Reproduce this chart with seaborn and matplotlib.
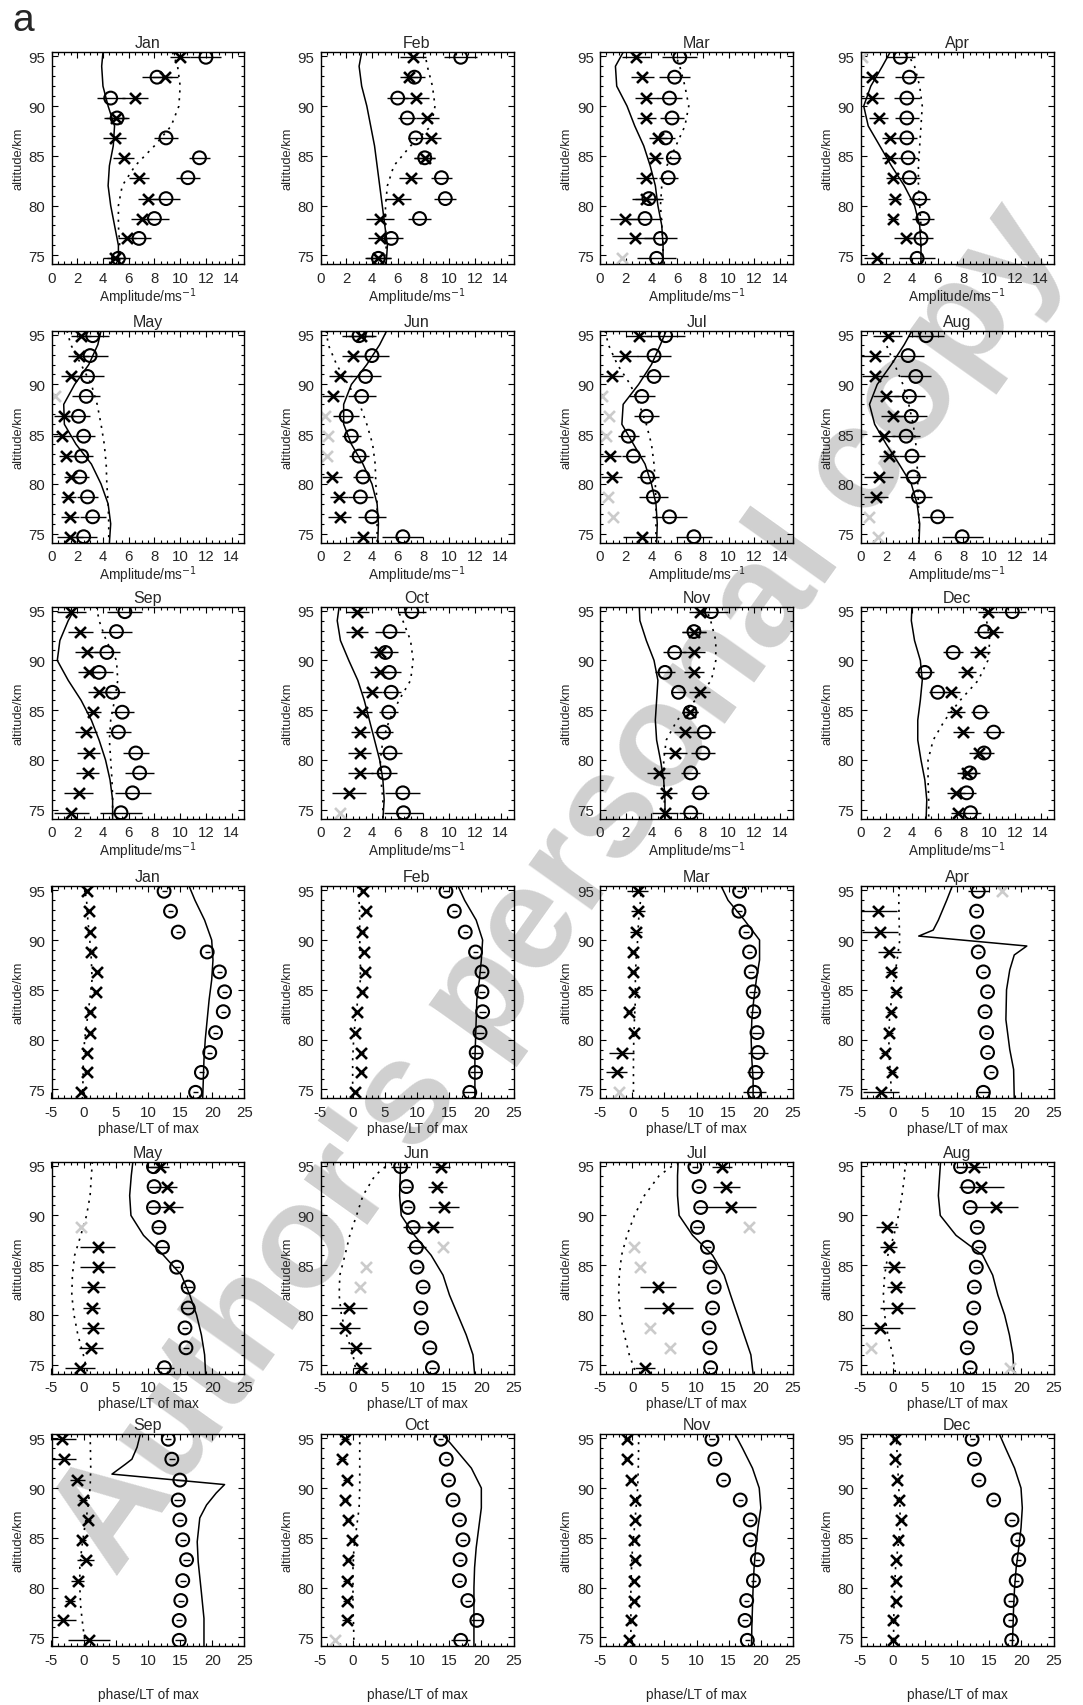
import numpy as np
import matplotlib
matplotlib.use("Agg")
import matplotlib.pyplot as plt
import seaborn as sns
from matplotlib.ticker import MultipleLocator

# ---------------- data ----------------
MONTHS = ["Jan", "Feb", "Mar", "Apr", "May", "Jun", "Jul", "Aug", "Sep", "Oct", "Nov", "Dec"]
# measurement altitudes, top -> bottom
ALT = [94.9, 92.9, 90.8, 88.8, 86.8, 84.8, 82.8, 80.7, 78.7, 76.7, 74.7]
# altitudes at which the model curves were read
CURVE_ALT = [95.4, 94, 92, 90, 88, 86, 84, 82, 80, 78, 76, 74.1]
# indices of non-significant (grey) cross points per month
GRAY = [[], [], [10], [0], [3], [4, 5, 6], [3, 4, 5, 8, 9], [9, 10], [], [10], [], []]

AMP_CIRCLE = [
    [12.0, 8.2, 4.6, 5.1, 8.9, 11.5, 10.6, 8.9, 8.0, 6.8, 5.2],
    [10.9, 7.3, 6.0, 6.75, 7.4, 8.1, 9.4, 9.7, 7.7, 5.5, 4.5],
    [6.2, 5.8, 5.4, 5.6, 5.1, 5.7, 5.3, 3.8, 3.5, 4.7, 4.4],
    [3.1, 3.8, 3.6, 3.6, 3.6, 3.7, 3.8, 4.6, 4.85, 4.7, 4.4],
    [3.2, 3.0, 2.8, 2.7, 2.1, 2.5, 2.35, 2.2, 2.8, 3.2, 2.5],
    [3.0, 4.0, 3.5, 3.2, 2.0, 2.4, 3.0, 3.3, 3.1, 4.0, 6.4],
    [5.1, 4.2, 4.2, 3.25, 3.6, 2.2, 2.6, 3.7, 4.15, 5.4, 7.3],
    [5.1, 3.7, 4.3, 3.8, 3.95, 3.55, 4.0, 4.1, 4.5, 6.0, 7.9],
    [5.7, 5.05, 4.3, 3.7, 4.75, 5.5, 5.2, 6.55, 6.85, 6.3, 5.4],
    [7.1, 5.4, 5.05, 5.35, 5.5, 5.3, 4.9, 5.4, 4.95, 6.4, 6.45],
    [8.65, 7.3, 5.8, 5.05, 6.1, 7.0, 8.1, 8.0, 7.05, 7.75, 7.05],
    [11.8, 9.65, 7.2, 5.0, 6.0, 9.3, 10.35, 9.6, 8.5, 8.25, 8.55],
]
AMP_CIRCLE_ERR = [
    [1.2, 1.2, 1.1, 0.9, 0.9, 0.85, 0.95, 1.1, 1.1, 0.9, 0.9],
    [1.3, 0.8, 0.8, 0.7, 0.6, 0.8, 0.8, 0.85, 0.9, 0.9, 1.0],
    [1.35, 1.2, 1.0, 0.9, 0.7, 0.6, 0.75, 1.1, 1.3, 1.3, 1.5],
    [1.15, 1.1, 1.0, 0.95, 0.8, 0.8, 0.8, 0.8, 0.85, 0.95, 1.4],
    [1.3, 1.4, 1.3, 1.1, 0.9, 0.9, 0.9, 0.7, 0.85, 1.0, 1.0],
    [1.3, 1.3, 1.2, 1.1, 1.0, 0.75, 0.75, 0.8, 1.0, 1.1, 1.6],
    [1.5, 1.3, 1.2, 1.0, 0.95, 0.8, 0.9, 0.85, 1.1, 1.35, 1.4],
    [1.4, 1.2, 1.2, 1.2, 1.2, 1.1, 1.0, 1.0, 1.05, 1.2, 1.6],
    [1.35, 1.2, 1.0, 1.1, 1.0, 0.9, 0.95, 1.0, 1.15, 1.4, 1.6],
    [1.1, 1.15, 1.0, 0.9, 0.75, 0.75, 0.75, 0.9, 1.0, 1.35, 1.5],
    [1.3, 0.9, 0.9, 0.8, 0.6, 0.6, 0.85, 0.9, 0.75, 0.7, 0.9],
    [1.1, 0.8, 0.75, 0.75, 0.7, 0.7, 0.8, 0.8, 0.8, 0.75, 0.8],
]
AMP_CROSS = [
    [10.0, 8.8, 6.5, 5.0, 4.9, 5.6, 6.8, 7.5, 7.0, 5.9, 4.9],
    [7.2, 6.9, 7.4, 8.3, 8.6, 8.1, 7.0, 6.0, 4.6, 4.6, 4.45],
    [2.8, 3.3, 3.6, 3.6, 4.5, 4.3, 3.6, 3.6, 1.95, 2.7, 1.7],
    [0.15, 0.9, 0.9, 1.4, 2.3, 2.3, 2.5, 2.65, 2.5, 3.5, 1.3],
    [2.3, 2.1, 1.55, 0.25, 1.0, 0.8, 1.15, 1.55, 1.3, 1.4, 1.45],
    [3.15, 2.55, 1.55, 1.0, 0.35, 0.6, 0.5, 0.9, 1.4, 1.5, 3.3],
    [3.0, 1.95, 0.9, 0.15, 0.7, 0.5, 0.8, 0.9, 0.65, 1.0, 3.25],
    [2.1, 1.1, 1.1, 2.0, 2.5, 1.8, 2.2, 1.4, 1.2, 0.65, 1.35],
    [1.55, 2.25, 2.75, 2.9, 3.7, 3.25, 2.7, 2.9, 2.8, 2.1, 1.55],
    [2.85, 2.85, 4.65, 4.6, 4.0, 3.25, 3.1, 3.05, 3.1, 2.2, 1.5],
    [7.75, 7.3, 7.3, 7.3, 7.75, 7.0, 6.6, 5.85, 4.55, 5.15, 5.05],
    [9.9, 10.3, 9.3, 8.25, 7.05, 7.45, 8.0, 9.2, 8.3, 7.45, 7.6],
]
AMP_CROSS_ERR = [
    [0.8, 1.0, 1.0, 0.9, 0.9, 0.85, 0.8, 0.8, 0.8, 0.7, 0.9],
    [1.0, 0.7, 1.0, 0.9, 0.8, 0.8, 0.9, 1.0, 1.1, 0.9, 1.0],
    [1.1, 0.9, 0.9, 0.75, 0.7, 0.6, 0.8, 1.1, 1.2, 1.4, 0.0],
    [0.0, 0.9, 0.9, 0.75, 0.6, 0.6, 0.5, 0.5, 0.4, 0.9, 1.0],
    [0.8, 0.8, 0.8, 0.0, 0.8, 0.7, 0.6, 0.6, 0.6, 0.7, 1.0],
    [1.0, 0.9, 0.9, 0.85, 0.0, 0.0, 0.0, 0.8, 0.7, 0.9, 1.0],
    [1.0, 1.0, 0.9, 0.0, 0.0, 0.0, 0.8, 0.8, 0.0, 0.0, 1.5],
    [1.1, 1.1, 1.0, 1.0, 0.9, 0.9, 0.8, 1.1, 0.95, 0.0, 0.0],
    [1.1, 0.95, 0.9, 0.85, 0.9, 0.6, 0.85, 0.9, 0.9, 1.1, 1.35],
    [0.9, 0.85, 0.8, 0.75, 0.75, 0.75, 0.75, 0.9, 0.95, 1.3, 0.0],
    [0.8, 0.9, 0.85, 0.8, 0.8, 0.6, 0.85, 0.95, 0.9, 0.8, 1.0],
    [0.8, 0.8, 0.8, 0.7, 0.7, 0.7, 0.8, 0.8, 0.8, 0.7, 0.6],
]
AMP_SOLID = [
    [4.0, 3.9, 4.0, 4.4, 4.9, 4.8, 4.5, 4.4, 4.6, 4.9, 5.2, 5.2],
    [3.2, 3.0, 3.2, 3.6, 3.9, 4.2, 4.4, 4.6, 4.8, 5.0, 5.2, 5.1],
    [1.8, 1.2, 1.3, 2.1, 2.7, 3.4, 3.9, 4.3, 4.5, 4.8, 4.9, 4.9],
    [2.3, 1.7, 0.8, 0.25, 0.6, 1.5, 2.4, 3.4, 4.2, 4.6, 4.7, 4.7],
    [3.85, 3.6, 2.9, 1.8, 0.95, 1.0, 1.9, 3.1, 3.85, 4.4, 4.6, 4.5],
    [5.15, 4.6, 3.6, 2.4, 1.8, 1.8, 2.4, 3.3, 4.0, 4.4, 4.5, 4.45],
    [5.15, 4.7, 4.0, 3.0, 1.8, 1.7, 2.6, 3.5, 4.0, 4.35, 4.45, 4.4],
    [4.0, 3.4, 2.4, 1.3, 0.7, 1.1, 2.0, 3.0, 3.95, 4.4, 4.6, 4.55],
    [1.9, 1.3, 0.65, 0.45, 1.3, 2.3, 3.1, 3.7, 4.2, 4.55, 4.75, 4.75],
    [1.45, 1.3, 1.55, 2.2, 2.9, 3.4, 3.8, 4.2, 4.6, 4.85, 4.95, 4.85],
    [3.05, 3.1, 3.6, 4.2, 4.5, 4.4, 4.3, 4.4, 4.7, 4.95, 5.05, 5.05],
    [4.0, 3.95, 4.2, 4.65, 4.8, 4.65, 4.45, 4.45, 4.7, 5.0, 5.15, 5.1],
]
AMP_DOTTED = [
    [9.4, 9.8, 10.0, 9.9, 9.3, 8.0, 6.5, 5.5, 5.2, 5.2, 5.3, 5.3],
    [8.1, 8.3, 8.7, 8.9, 8.6, 7.0, 5.7, 5.2, 5.05, 5.05, 5.1, 5.1],
    [5.8, 6.2, 6.6, 6.9, 6.6, 5.9, 5.2, 4.8, 4.7, 4.8, 4.9, 4.9],
    [3.6, 4.2, 4.6, 4.8, 4.7, 4.6, 4.5, 4.5, 4.6, 4.7, 4.7, 4.7],
    [1.2, 1.5, 2.3, 3.1, 3.55, 3.85, 4.1, 4.25, 4.3, 4.4, 4.45, 4.45],
    [0.45, 0.6, 1.25, 2.15, 3.05, 3.6, 4.05, 4.25, 4.3, 4.4, 4.4, 4.4],
    [0.4, 0.65, 1.35, 2.35, 3.05, 3.6, 4.0, 4.2, 4.3, 4.35, 4.35, 4.35],
    [1.8, 2.0, 2.65, 3.3, 3.75, 4.1, 4.3, 4.4, 4.45, 4.5, 4.55, 4.55],
    [3.5, 3.7, 4.25, 5.05, 5.15, 4.9, 4.6, 4.5, 4.6, 4.7, 4.75, 4.75],
    [5.85, 6.4, 7.0, 7.2, 7.0, 6.1, 5.35, 4.85, 4.65, 4.7, 4.85, 4.85],
    [8.2, 8.6, 9.0, 9.0, 8.65, 7.4, 6.0, 5.15, 4.95, 4.95, 5.0, 5.05],
    [9.4, 9.8, 10.05, 9.9, 9.15, 7.75, 6.55, 5.65, 5.25, 5.25, 5.3, 5.3],
]

PHASE_CIRCLE = [
    [12.5, 13.5, 14.7, 19.2, 21.1, 21.9, 21.7, 20.5, 19.6, 18.3, 17.4],
    [14.5, 15.8, 17.5, 19.1, 20.1, 20.1, 20.2, 19.8, 19.2, 19.1, 18.2],
    [16.7, 16.6, 17.7, 18.25, 18.5, 18.8, 18.9, 19.4, 19.55, 19.2, 19.0],
    [13.3, 13.05, 13.2, 13.3, 14.1, 14.75, 14.35, 14.6, 14.75, 15.3, 14.1],
    [10.85, 10.95, 10.85, 11.7, 12.25, 14.45, 16.25, 16.25, 15.75, 15.9, 12.55],
    [7.45, 8.35, 8.6, 9.4, 9.9, 10.0, 10.95, 10.6, 10.7, 12.0, 12.4],
    [9.75, 10.4, 10.65, 10.15, 11.7, 12.1, 12.75, 12.5, 11.95, 12.1, 12.2],
    [10.55, 11.7, 12.05, 13.15, 13.4, 13.0, 12.7, 12.6, 12.1, 11.6, 12.05],
    [13.15, 13.7, 14.95, 14.7, 14.95, 15.4, 16.0, 15.4, 15.1, 14.85, 14.85],
    [13.7, 14.55, 14.9, 15.6, 16.6, 17.15, 16.7, 16.6, 17.9, 19.3, 16.8],
    [12.4, 12.85, 14.2, 16.8, 18.35, 18.35, 19.45, 18.85, 17.8, 17.55, 17.9],
    [12.35, 12.7, 13.4, 15.7, 18.55, 19.45, 19.6, 19.2, 18.4, 18.3, 18.5],
]
PHASE_CIRCLE_ERR = [
    [0.4, 0.4, 0.4, 0.4, 0.4, 0.4, 0.4, 0.4, 0.4, 0.4, 0.4],
    [0.4, 0.4, 0.4, 0.4, 0.5, 0.5, 0.5, 0.6, 0.8, 0.8, 1.0],
    [0.4, 0.4, 0.4, 0.4, 0.5, 0.6, 0.6, 0.7, 1.6, 1.3, 1.8],
    [1.6, 0.4, 0.4, 0.4, 0.4, 0.4, 0.4, 0.4, 0.4, 0.4, 0.8],
    [1.0, 0.8, 0.8, 1.0, 1.0, 0.5, 0.8, 1.0, 0.5, 0.5, 1.5],
    [1.5, 0.7, 0.6, 1.5, 1.5, 0.6, 0.6, 0.5, 0.5, 0.6, 0.5],
    [0.5, 0.5, 0.8, 0.7, 0.5, 0.8, 0.5, 0.5, 0.5, 0.5, 0.5],
    [0.7, 0.8, 0.6, 0.6, 0.6, 0.5, 0.5, 0.5, 0.5, 0.5, 0.5],
    [0.5, 0.5, 0.6, 0.6, 0.5, 0.5, 0.5, 0.5, 0.5, 0.5, 0.7],
    [0.4, 0.4, 0.4, 0.4, 0.4, 0.4, 0.4, 0.4, 0.5, 0.9, 1.5],
    [0.4, 0.4, 0.4, 0.4, 0.4, 0.4, 0.4, 0.4, 0.4, 0.4, 0.4],
    [0.4, 0.4, 0.4, 0.4, 0.4, 0.4, 0.4, 0.4, 0.4, 0.4, 0.4],
]
PHASE_CROSS = [
    [0.45, 0.8, 0.95, 1.2, 2.1, 1.85, 1.05, 1.05, 0.45, 0.45, -0.35],
    [1.55, 2.1, 1.45, 1.7, 1.95, 1.45, 0.65, 0.4, 1.35, 1.35, 0.4],
    [0.85, 0.95, 0.6, 0.1, 0.1, 0.35, -0.45, 0.25, -1.6, -2.4, -2.0],
    [17.05, -2.3, -1.9, -0.5, -0.2, 0.55, -0.3, -0.5, -1.25, -0.1, -1.8],
    [11.8, 12.9, 13.25, -0.35, 2.2, 2.2, 1.45, 1.25, 1.5, 1.2, -0.6],
    [13.7, 13.15, 14.2, 12.5, 14.0, 2.15, 1.1, -0.55, -1.2, 0.45, 1.25],
    [13.95, 14.65, 15.35, 18.2, 0.35, 1.25, 4.05, 5.6, 2.8, 5.9, 2.0],
    [12.7, 13.75, 16.0, -0.9, -0.6, 0.2, 0.55, 0.7, -1.95, -3.35, 18.3],
    [-3.4, -3.05, -1.0, -0.1, 0.65, -0.2, 0.3, -0.9, -2.15, -3.2, 0.8],
    [-1.2, -1.65, -0.95, -1.2, -0.7, -0.1, -0.7, -0.95, -0.95, -0.95, -2.8],
    [-0.8, -0.85, -0.2, 0.45, 0.5, 0.35, 0.5, 0.25, 0.35, -0.2, -0.45],
    [0.3, 0.4, 0.7, 0.95, 1.3, 0.9, 0.55, 0.45, 0.45, 0.05, 0.05],
]
PHASE_CROSS_ERR = [
    [0.4, 0.4, 0.4, 0.4, 0.4, 0.4, 0.4, 0.4, 0.4, 0.4, 0.4],
    [0.4, 0.4, 0.4, 0.4, 0.4, 0.4, 0.4, 0.4, 0.4, 0.4, 0.4],
    [1.6, 1.1, 0.9, 0.5, 0.5, 0.5, 0.5, 0.5, 1.95, 1.6, 0.0],
    [0.0, 3.0, 2.8, 1.8, 0.9, 0.8, 0.6, 0.6, 0.6, 0.6, 2.8],
    [1.5, 1.6, 2.2, 0.0, 2.7, 2.7, 1.8, 1.3, 1.7, 1.85, 2.3],
    [1.4, 1.5, 2.3, 3.1, 0.0, 0.0, 0.0, 2.85, 2.3, 2.45, 1.2],
    [1.5, 2.1, 3.9, 0.0, 0.0, 0.0, 2.8, 3.8, 0.0, 0.0, 1.6],
    [2.0, 3.5, 3.5, 1.75, 1.3, 1.7, 1.4, 2.7, 3.1, 0.0, 0.0],
    [2.2, 1.8, 1.2, 0.6, 0.5, 0.5, 1.3, 1.0, 0.8, 2.0, 3.3],
    [0.6, 0.6, 0.5, 0.5, 0.5, 0.5, 0.5, 0.5, 0.5, 0.7, 0.0],
    [0.4, 0.4, 0.4, 0.4, 0.4, 0.4, 0.4, 0.4, 0.4, 0.4, 0.4],
    [0.4, 0.4, 0.4, 0.4, 0.4, 0.4, 0.4, 0.4, 0.4, 0.4, 0.4],
]
PHASE_SOLID = [
    [16.4, 17.3, 18.8, 19.9, 20.1, 19.9, 19.5, 19.2, 18.9, 18.7, 18.6, 18.5],
    [16.4, 17.4, 19.2, 20.2, 20.0, 19.7, 19.3, 19.2, 19.1, 19.0, 19.0, 19.0],
    [13.85, 14.9, 17.45, 19.8, 19.8, 19.3, 18.9, 18.6, 18.5, 18.6, 18.8, 18.8],
    None,
    [7.65, 7.4, 7.15, 7.35, 9.3, 12.4, 15.2, 16.5, 17.55, 18.3, 18.8, 18.95],
    [7.45, 7.4, 7.3, 7.55, 9.6, 12.2, 14.05, 15.05, 16.35, 17.65, 18.7, 18.95],
    [7.15, 7.05, 7.05, 7.3, 9.4, 12.5, 14.3, 15.3, 16.35, 17.4, 18.45, 18.8],
    [7.45, 7.3, 7.1, 7.4, 9.85, 14.0, 15.55, 16.35, 17.4, 18.15, 18.7, 18.85],
    None,
    [14.0, 15.85, 18.45, 20.0, 20.0, 19.6, 19.2, 18.95, 18.85, 18.85, 18.85, 18.85],
    [16.0, 17.15, 18.7, 19.75, 20.0, 19.55, 19.2, 18.95, 18.8, 18.7, 18.6, 18.55],
    [16.6, 17.55, 18.95, 19.95, 20.15, 19.95, 19.6, 19.2, 18.95, 18.8, 18.7, 18.6],
]
# months whose model phase jumps: read at their own altitudes
APR_PHASE_SOLID_ALT = [95.4, 94, 92, 91, 90.4, 89.4, 88.5, 87, 85, 82, 79, 77, 74.1]
APR_PHASE_SOLID = [9.25, 8.4, 7.1, 6.3, 4.05, 20.85, 18.9, 18.2, 17.7, 17.6, 18.2, 18.8, 18.9]
SEP_PHASE_SOLID_ALT = [95.4, 94.1, 92.9, 92.4, 91.4, 90.35, 89.5, 88.3, 87.0, 84.6, 82.6, 79.5, 76.9, 74.1]
SEP_PHASE_SOLID = [8.8, 8.3, 7.5, 6.5, 4.4, 21.9, 20.6, 19.1, 18.05, 17.65, 17.8, 18.3, 18.7, 18.7]

PHASE_DOTTED = [
    [0.05, 0.45, 0.65, 0.95, 1.2, 1.3, 0.95, 0.55, 0.15, -0.05, -0.1, -0.2],
    [0.8, 1.0, 1.1, 1.1, 1.2, 1.2, 0.8, 0.4, 0.15, 0.0, 0.0, 0.0],
    [1.4, 1.3, 1.0, 0.85, 0.6, 0.5, 0.5, 0.35, 0.25, 0.2, 0.2, 0.2],
    [0.95, 0.95, 1.0, 1.1, 0.7, 0.2, -0.2, -0.5, -0.6, -0.5, -0.3, -0.2],
    [1.35, 1.2, 1.0, 0.45, -0.45, -1.4, -1.75, -1.85, -1.5, -0.9, -0.05, 0.65],
    [6.0, 3.45, 1.6, 0.6, -0.45, -1.2, -2.0, -2.1, -1.75, -0.95, 0.05, 0.6],
    [7.15, 4.2, 1.9, 0.35, -0.8, -1.65, -2.0, -2.1, -1.85, -1.2, -0.45, 0.6],
    [1.95, 1.85, 1.45, 0.9, 0.2, -0.75, -1.25, -1.45, -1.25, -0.75, 0.0, 0.45],
    [1.0, 1.05, 1.1, 1.0, 0.65, 0.15, -0.3, -0.6, -0.6, -0.45, -0.1, 0.3],
    [1.1, 1.1, 1.1, 1.1, 1.0, 0.6, 0.2, 0.05, 0.05, 0.05, 0.15, 0.2],
    [1.0, 1.0, 0.95, 0.85, 0.6, 0.35, 0.05, -0.1, -0.2, -0.2, -0.2, -0.2],
    [0.55, 0.65, 0.8, 0.95, 1.15, 1.15, 0.8, 0.45, 0.3, 0.2, 0.15, 0.15],
]

AMP_TICKS = [0, 2, 4, 6, 8, 10, 12, 14]
PHASE_TICKS = [-5, 0, 5, 10, 15, 20, 25]
ALT_TICKS = [75, 80, 85, 90, 95]
WATERMARK = "Author's personal copy"

# ---------------- styling / layout ----------------
sns.set_style("ticks")
plt.rcParams["font.family"] = ["Liberation Sans", "DejaVu Sans"]
plt.rcParams["axes.unicode_minus"] = False

W, H = 1083, 1706
fig = plt.figure(figsize=(W / 100, H / 100), dpi=100)
fig.patch.set_facecolor("white")

COL_LEFT = [51.5, 320.5, 600.0, 860.5]
ROW_TOP = [53.3, 331.7, 607.7, 887.3, 1162.7, 1435.3]
AX_W, AX_H = 193.0, 212.0

GRAY_COLOR = "#cbcbcb"
DOT_STYLE = (0, (1.3, 3.4))


def style_axes(ax, kind, bottom_row):
    ax.set_facecolor("none")
    if kind == "amp":
        ax.set_xlim(0, 15)
        ax.set_xticks(AMP_TICKS)
        ax.xaxis.set_minor_locator(MultipleLocator(0.5))
        ax.set_xlabel("Amplitude/ms$^{-1}$", fontsize=9.8, labelpad=0.5)
    else:
        ax.set_xlim(-5, 25)
        ax.set_xticks(PHASE_TICKS)
        ax.xaxis.set_minor_locator(MultipleLocator(1))
        ax.set_xlabel("phase/LT of max", fontsize=9.8,
                      labelpad=(15 if bottom_row else 1.5))
    ax.set_ylim(74.1, 95.4)
    ax.set_yticks(ALT_TICKS)
    ax.yaxis.set_minor_locator(MultipleLocator(1))
    ax.set_ylabel("altitude/km", fontsize=9.3, labelpad=3)
    ax.tick_params(which="both", direction="in", top=True, right=True,
                   color="black", width=0.8)
    ax.tick_params(which="major", length=4.5, labelsize=10.8, pad=4.5)
    ax.tick_params(which="minor", length=2.0)
    for sp in ax.spines.values():
        sp.set_visible(True)
        sp.set_linewidth(1.0)
        sp.set_color("black")


def draw_panel(ax, circ, circ_err, cross, cross_err, gray_idx,
               solid_alt, solid, dotted):
    alt = np.array(ALT)
    cross = np.array(cross, dtype=float)
    cross_err = np.array(cross_err, dtype=float)
    gmask = np.zeros(len(alt), dtype=bool)
    gmask[gray_idx] = True

    sns.lineplot(x=solid, y=solid_alt, orient="y", sort=False, estimator=None,
                 color="black", linewidth=1.1, ax=ax, zorder=2)
    sns.lineplot(x=dotted, y=CURVE_ALT, orient="y", sort=False, estimator=None,
                 color="black", linewidth=1.2, linestyle=DOT_STYLE, ax=ax, zorder=2)

    ax.errorbar(circ, alt, xerr=circ_err, fmt="none", ecolor="black",
                elinewidth=1.0, capsize=0, zorder=3)
    ax.errorbar(cross[~gmask], alt[~gmask], xerr=cross_err[~gmask], fmt="none",
                ecolor="black", elinewidth=1.0, capsize=0, zorder=3)

    if gmask.any():
        sns.scatterplot(x=cross[gmask], y=alt[gmask], marker="x", color=GRAY_COLOR,
                        s=62, linewidth=1.9, ax=ax, zorder=2)
    sns.scatterplot(x=circ, y=alt, marker="o", s=85, facecolors="none",
                    edgecolors="black", linewidths=1.5, ax=ax, zorder=4)
    sns.scatterplot(x=cross[~gmask], y=alt[~gmask], marker="x", color="black",
                    s=62, linewidth=1.9, ax=ax, zorder=4)


for m in range(12):
    for block in range(2):
        row = block * 3 + m // 4
        col = m % 4
        left = COL_LEFT[col]
        top = ROW_TOP[row]
        ax = fig.add_axes([left / W, 1 - (top + AX_H) / H, AX_W / W, AX_H / H])
        if block == 0:
            draw_panel(ax, AMP_CIRCLE[m], AMP_CIRCLE_ERR[m], AMP_CROSS[m],
                       AMP_CROSS_ERR[m], GRAY[m], CURVE_ALT, AMP_SOLID[m],
                       AMP_DOTTED[m])
            kind = "amp"
        else:
            if m == 3:
                s_alt, s_val = APR_PHASE_SOLID_ALT, APR_PHASE_SOLID
            elif m == 8:
                s_alt, s_val = SEP_PHASE_SOLID_ALT, SEP_PHASE_SOLID
            else:
                s_alt, s_val = CURVE_ALT, PHASE_SOLID[m]
            draw_panel(ax, PHASE_CIRCLE[m], PHASE_CIRCLE_ERR[m], PHASE_CROSS[m],
                       PHASE_CROSS_ERR[m], GRAY[m], s_alt, s_val,
                       PHASE_DOTTED[m])
            kind = "phase"
        style_axes(ax, kind, bottom_row=(row == 5))
        ax.set_title(MONTHS[m], fontsize=11.5, pad=3.5)

# panel letter
fig.text(12 / W, 1 - 21 / H, "a", fontsize=28, va="center", ha="left")

# watermark (behind the transparent axes)
fig.text(560 / W, 1 - 890 / H, WATERMARK, rotation=54.5, rotation_mode="anchor",
         ha="center", va="center", fontsize=106, fontweight="bold",
         color="#d0d0d0", zorder=-1)

fig.savefig("out.png", dpi=100, facecolor="white")
